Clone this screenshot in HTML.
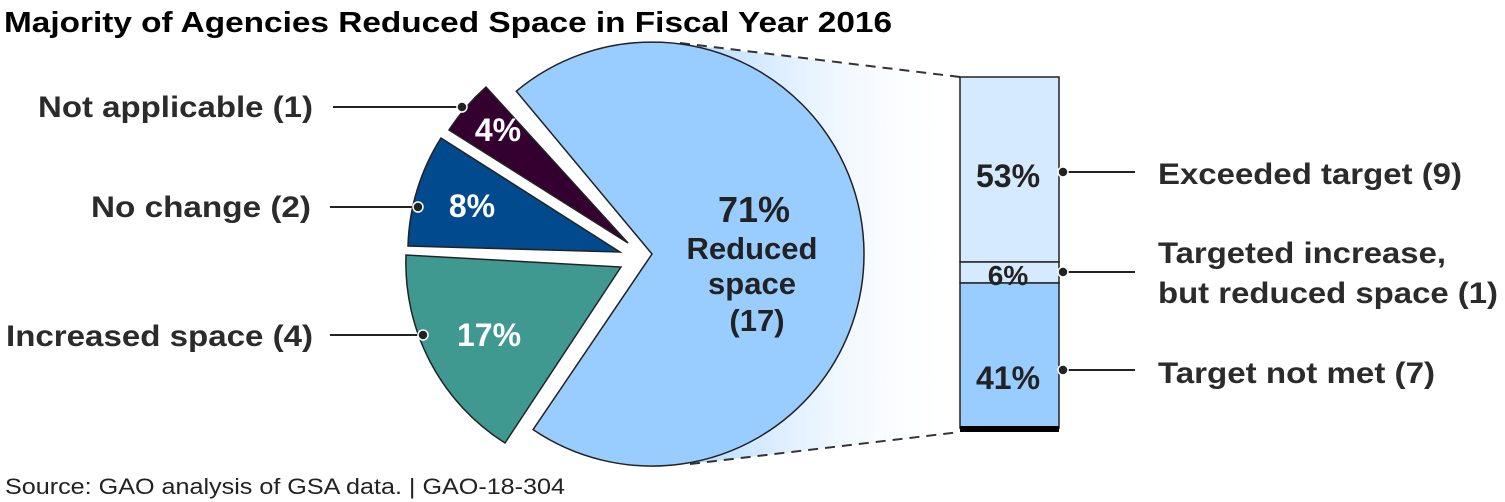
<!DOCTYPE html>
<html><head><meta charset="utf-8"><style>html,body{margin:0;padding:0;background:#fff}svg{display:block}</style></head>
<body>
<svg width="1505" height="502" viewBox="0 0 1505 502" xmlns="http://www.w3.org/2000/svg" font-family="Liberation Sans, Arial, sans-serif">
<defs>
<linearGradient id="g" x1="700" y1="0" x2="960" y2="0" gradientUnits="userSpaceOnUse">
<stop offset="0" stop-color="#b9dcff"/><stop offset="1" stop-color="#ffffff" stop-opacity="0"/>
</linearGradient>
</defs>
<text x="4" y="32" font-size="29" font-weight="bold" fill="#000" textLength="888" lengthAdjust="spacingAndGlyphs">Majority of Agencies Reduced Space in Fiscal Year 2016</text>
<polygon points="680,44 960,77 960,432 690,464" fill="url(#g)"/>
<line x1="680" y1="43" x2="960" y2="77" stroke="#333" stroke-width="2" stroke-dasharray="10,7"/>
<line x1="690" y1="464" x2="960" y2="432" stroke="#333" stroke-width="2" stroke-dasharray="10,7"/>
<path d="M652,254 L516.3,91.2 A212,212 0 1 1 533.1,429.6 Z" fill="#99ccff" stroke="#222" stroke-width="1.5"/>
<path d="M621,267 L505,443 A213,213 0 0 1 406,255 Z" fill="#3f9990" stroke="#222" stroke-width="1.5"/>
<path d="M620,252 L408,246 A212,212 0 0 1 441,138 Z" fill="#004a8d" stroke="#222" stroke-width="1.5"/>
<path d="M628,243 L449,130 A212,212 0 0 1 486,87 Z" fill="#33002f" stroke="#222" stroke-width="1.5"/>
<g font-weight="bold" fill="#fff" font-size="32" text-anchor="middle">
<text x="498" y="141">4%</text>
<text x="472" y="217">8%</text>
<text x="489" y="346">17%</text>
</g>
<g font-weight="bold" fill="#222" text-anchor="middle">
<text x="754" y="222" font-size="36">71%</text>
<text x="752" y="259" font-size="31">Reduced</text>
<text x="752" y="294" font-size="31">space</text>
<text x="757" y="331" font-size="31">(17)</text>
</g>
<rect x="960" y="77" width="99" height="185" fill="#d6eaff" stroke="#222" stroke-width="1.5"/>
<rect x="960" y="262" width="99" height="21" fill="#d6eaff" stroke="#222" stroke-width="1.5"/>
<rect x="960" y="283" width="99" height="145" fill="#99ccff" stroke="#222" stroke-width="1.5"/>
<rect x="960" y="426" width="99" height="6" fill="#000"/>
<g font-weight="bold" fill="#222" font-size="32" text-anchor="middle">
<text x="1008" y="187">53%</text>
<text x="1008" y="285" font-size="28">6%</text>
<text x="1008" y="389">41%</text>
</g>
<g stroke="#222" stroke-width="2">
<line x1="333" y1="107" x2="462" y2="107"/>
<line x1="330" y1="207" x2="418" y2="207"/>
<line x1="330" y1="335" x2="423" y2="335"/>
<line x1="1063" y1="172" x2="1135" y2="172"/>
<line x1="1063" y1="272" x2="1135" y2="272"/>
<line x1="1063" y1="370" x2="1135" y2="370"/>
</g>
<g fill="#222" stroke="#fff" stroke-width="1.5">
<circle cx="462" cy="107" r="5"/><circle cx="418" cy="207" r="5"/><circle cx="423" cy="335" r="5"/>
<circle cx="1063" cy="172" r="5"/><circle cx="1063" cy="272" r="5"/><circle cx="1063" cy="370" r="5"/>
</g>
<g font-weight="bold" fill="#2b2b2b" font-size="30">
<text x="38" y="117" textLength="275" lengthAdjust="spacingAndGlyphs">Not applicable (1)</text>
<text x="91" y="217" textLength="220" lengthAdjust="spacingAndGlyphs">No change (2)</text>
<text x="6" y="346" textLength="307" lengthAdjust="spacingAndGlyphs">Increased space (4)</text>
<text x="1158" y="184" textLength="304" lengthAdjust="spacingAndGlyphs">Exceeded target (9)</text>
<text x="1158" y="263" textLength="288" lengthAdjust="spacingAndGlyphs">Targeted increase,</text>
<text x="1158" y="303" textLength="340" lengthAdjust="spacingAndGlyphs">but reduced space (1)</text>
<text x="1158" y="383" textLength="277" lengthAdjust="spacingAndGlyphs">Target not met (7)</text>
</g>
<text x="5" y="494" font-size="22" fill="#222" textLength="560" lengthAdjust="spacingAndGlyphs">Source: GAO analysis of GSA data.  | GAO-18-304</text>
</svg>
</body></html>
